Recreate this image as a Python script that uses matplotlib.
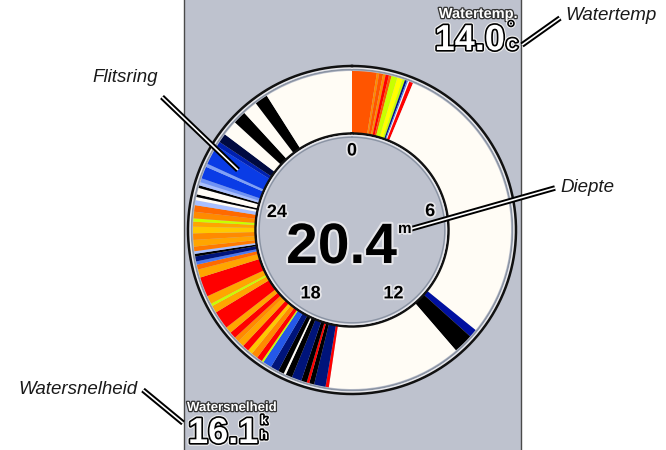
import numpy as np
import matplotlib
matplotlib.use("Agg")
import matplotlib.pyplot as plt
import matplotlib.patheffects as pe
from matplotlib.patches import Rectangle

plt.rcParams['font.family'] = ['Liberation Sans', 'DejaVu Sans']

# --- data
depth_range = 30
dial_ticks = [0, 6, 12, 18, 24]
depth_value = "20.4"
temp_value = "14.0"
speed_value = "16.1"

# flasher segments: boundaries in depth units (0..30) and colour of each segment
flash_bounds = [0.00, 0.75, 0.82, 0.94, 1.02, 1.12, 1.20, 1.38, 1.55, 1.62, 1.68, 1.72, 1.76, 1.88,
                10.75, 11.00, 11.60,
                15.70, 15.80, 16.15, 16.30, 16.38, 16.55, 16.85, 17.05, 17.12, 17.30, 17.55, 17.82, 17.88,
                18.05, 18.25, 18.40, 18.60, 18.80, 18.95, 19.15, 19.35, 19.90, 20.12, 20.20, 20.45,
                21.05, 21.30, 21.45, 21.55, 21.70, 21.78, 21.86, 22.00, 22.20, 22.40, 22.60, 22.75,
                22.85, 23.05, 23.25, 23.40, 23.50, 23.58, 23.78, 23.86, 23.96, 24.08, 24.45, 24.55,
                25.15, 25.30, 25.58, 26.05, 26.45, 26.90, 27.30, 30.00]
flash_colors = ['#FF5500', '#FF8A00', '#FF5500', '#FF8A00', '#FF0000', '#FF5500', '#C8FF00', '#FFFF00',
                '#C8FF00', '#00147A', '#4A78F0', '#FFFCF5', '#FF0000',
                '#FFFCF5', '#0010A0', '#000000',
                '#FFFCF5', '#FF0000', '#00147A', '#000000', '#FF0000', '#000000', '#00147A', '#000000',
                '#FFFCF5', '#000000', '#00147A', '#2458E8', '#C8FF00',
                '#FF0000', '#FF8A00', '#FFC800', '#FF0000', '#FFA500', '#FF8A00', '#FF0000', '#FFA500',
                '#FF0000', '#FFA500', '#C8FF00', '#FFA500',
                '#FF0000', '#FFA500', '#FF6A00', '#4A78F0', '#00147A', '#000000', '#A8BFFF', '#FF7A00',
                '#FFA500', '#FF8A00', '#FFC800', '#FFA500',
                '#C8FF00', '#FF8A00', '#FF6A00', '#A8BFFF', '#FFFCF5', '#000000', '#FFFCF5', '#000000',
                '#A8BFFF', '#6F93F5', '#0A3CE6', '#7FA0F8', '#0A3CE6',
                '#0020B0', '#000A40', '#FFFCF5', '#000000', '#FFFCF5', '#000000', '#FFFCF5']

callouts = ["Flitsring", "Diepte", "Watertemp", "Watersnelheid"]

W, H = 666, 450
panel = '#BEC2CE'
fig = plt.figure(figsize=(W / 100, H / 100), dpi=100)

# background / panel (pixel coords)
bg = fig.add_axes([0, 0, 1, 1])
bg.set_xlim(0, W)
bg.set_ylim(H, 0)
bg.axis('off')
bg.add_patch(Rectangle((184, -2), 337, H + 4, fc=panel, ec='#4a4a4a', lw=1))

# flasher ring on a polar axes, radius in pixels
cx, cy, box = 352, 230, 170
pol = fig.add_axes([(cx - box) / W, (H - cy - box) / H, 2 * box / W, 2 * box / H], projection='polar')
pol.set_theta_zero_location('N')
pol.set_theta_direction(-1)
pol.set_ylim(0, box)
pol.set_axis_off()

lo = np.array(flash_bounds[:-1])
hi = np.array(flash_bounds[1:])
to_rad = 2 * np.pi / depth_range
pol.bar(lo * to_rad, 62, width=(hi - lo) * to_rad, bottom=97, align='edge',
        color=flash_colors, edgecolor='none', linewidth=0)

th = np.linspace(0, 2 * np.pi, 500)
pol.plot(th, np.full_like(th, 160.5), color='#8a93a3', lw=1.2)
pol.plot(th, np.full_like(th, 162.3), color='#e8e8ec', lw=1.4)
pol.plot(th, np.full_like(th, 164), color='#111111', lw=1.8)
pol.fill_between(th, 0, 96, color=panel, lw=0)
pol.plot(th, np.full_like(th, 96.5), color='#111111', lw=1.8)
pol.plot(th, np.full_like(th, 94.5), color='#e8e8ec', lw=1.0)
pol.plot(th, np.full_like(th, 92.8), color='#8a93a3', lw=1.0)

# dial numbers sit a little off the exact circle on the device
light = [pe.withStroke(linewidth=2.5, foreground='#e6e6ea')]
nudge = [(0, 0), (3, -6), (-5, 0), (5, 0), (0, -7)]
for t, (dx, dy) in zip(dial_ticks, nudge):
    pol.annotate(str(t), (t * to_rad, 79), xytext=(dx * 0.72, dy * 0.72), textcoords='offset points',
                 ha='center', va='center', fontsize=13, fontweight='bold', color='black',
                 path_effects=light)

# top overlay for readouts and callouts
top = fig.add_axes([0, 0, 1, 1])
top.set_xlim(0, W)
top.set_ylim(H, 0)
top.axis('off')
top.patch.set_alpha(0)

top.text(397, 263, depth_value, ha='right', va='baseline', fontsize=41, fontweight='bold',
         color='black', path_effects=[pe.withStroke(linewidth=3, foreground='#e6e6ea')])
top.text(398, 233, "m", ha='left', va='baseline', fontsize=11, fontweight='bold',
         color='black', path_effects=light)

white_txt = [pe.Stroke(linewidth=4, foreground='#f0f0f0'), pe.Stroke(linewidth=2.4, foreground='black'), pe.Normal()]
small_txt = [pe.Stroke(linewidth=1.8, foreground='#333333'), pe.Normal()]

top.text(518, 14, "Watertemp.", ha='right', va='center', fontsize=10.5, fontweight='bold',
         color='white', path_effects=small_txt)
top.text(505, 50, temp_value, ha='right', va='baseline', fontsize=26, fontweight='bold',
         color='white', path_effects=white_txt)
top.text(511, 27, "°", ha='center', va='center', fontsize=10, fontweight='bold',
         color='white', path_effects=white_txt)
top.text(512, 50, "C", ha='center', va='baseline', fontsize=12, fontweight='bold',
         color='white', path_effects=white_txt)

top.text(187, 408, "Watersnelheid", ha='left', va='center', fontsize=9.5, fontweight='bold',
         color='white', path_effects=small_txt)
top.text(188, 443, speed_value, ha='left', va='baseline', fontsize=26, fontweight='bold',
         color='white', path_effects=white_txt)
top.text(264, 421, "k", ha='center', va='center', fontsize=9, fontweight='bold',
         color='white', path_effects=white_txt)
top.text(264, 436, "h", ha='center', va='center', fontsize=9, fontweight='bold',
         color='white', path_effects=white_txt)

# callout labels with double leader lines
lead = [pe.Stroke(linewidth=4, foreground='black'), pe.Normal()]
label_pos = [(158, 78, 'right'), (560, 188, 'left'), (565, 16, 'left'), (137, 389, 'right')]
lines = [((162, 238), (97, 170)), ((555, 400), (188, 232)), ((560, 522), (18, 45)), ((143, 183), (390, 423))]
for name, (x, y, ha), (lx, ly) in zip(callouts, label_pos, lines):
    top.text(x, y, name, ha=ha, va='center', fontsize=13.5, style='italic', color='#1a1a1a')
    top.plot(lx, ly, color='white', lw=1.2, path_effects=lead, solid_capstyle='butt')

fig.savefig("out.png", dpi=100)
